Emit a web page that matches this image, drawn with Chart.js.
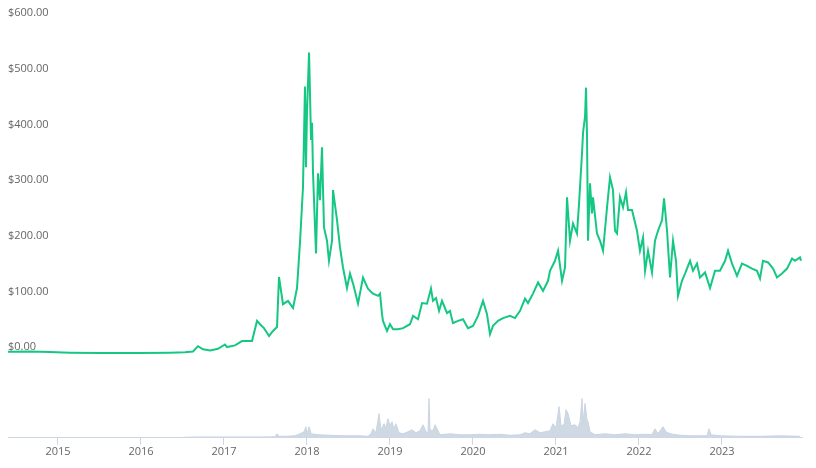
<!DOCTYPE html>
<html>
<head>
<meta charset="utf-8">
<script src="https://cdn.jsdelivr.net/npm/chart.js@4/dist/chart.umd.min.js"></script>
<style>
  html, body { margin: 0; padding: 0; background: #fff; }
  #wrap { width: 816px; height: 468px; }
</style>
</head>
<body>
<div id="wrap"><canvas id="chart" width="816" height="468"></canvas></div>
<script>
// price, USD (dates as decimal years)
const priceDates = [
  2014.398, 2014.663, 2014.904, 2015.145, 2015.506, 2015.988, 2016.350, 2016.531, 2016.627, 2016.687,
  2016.747, 2016.832, 2016.928, 2017.012, 2017.037, 2017.133, 2017.217, 2017.338, 2017.398, 2017.434,
  2017.482, 2017.543, 2017.591, 2017.639, 2017.663, 2017.711, 2017.771, 2017.832, 2017.880, 2017.916,
  2017.952, 2017.976, 2017.988, 2018.000, 2018.025, 2018.049, 2018.061, 2018.073, 2018.097, 2018.109,
  2018.133, 2018.157, 2018.181, 2018.205, 2018.241, 2018.265, 2018.302, 2018.314, 2018.362, 2018.398,
  2018.434, 2018.482, 2018.518, 2018.555, 2018.615, 2018.675, 2018.735, 2018.796, 2018.856, 2018.880,
  2018.904, 2018.916, 2018.964, 2019.000, 2019.037, 2019.097, 2019.157, 2019.241, 2019.278, 2019.338,
  2019.386, 2019.446, 2019.494, 2019.518, 2019.555, 2019.591, 2019.627, 2019.687, 2019.723, 2019.759,
  2019.820, 2019.880, 2019.940, 2020.000, 2020.061, 2020.121, 2020.169, 2020.205, 2020.241, 2020.302,
  2020.362, 2020.446, 2020.506, 2020.567, 2020.627, 2020.663, 2020.723, 2020.784, 2020.844, 2020.904,
  2020.928, 2020.988, 2021.025, 2021.073, 2021.109, 2021.133, 2021.169, 2021.205, 2021.253, 2021.278,
  2021.314, 2021.326, 2021.350, 2021.362, 2021.374, 2021.386, 2021.410, 2021.434, 2021.446, 2021.494,
  2021.531, 2021.567, 2021.615, 2021.651, 2021.687, 2021.711, 2021.735, 2021.771, 2021.808, 2021.844,
  2021.868, 2021.916, 2021.976, 2022.012, 2022.049, 2022.073, 2022.109, 2022.157, 2022.193, 2022.229,
  2022.278, 2022.302, 2022.338, 2022.374, 2022.410, 2022.446, 2022.470, 2022.518, 2022.555, 2022.615,
  2022.651, 2022.699, 2022.735, 2022.796, 2022.856, 2022.916, 2022.976, 2023.037, 2023.073, 2023.121,
  2023.181, 2023.241, 2023.302, 2023.362, 2023.422, 2023.458, 2023.494, 2023.555, 2023.615, 2023.663,
  2023.723, 2023.784, 2023.844, 2023.880, 2023.940, 2023.952
];
const prices = [
  2.5, 3, 2, 1, 0.5, 0.5, 1, 1.5, 3, 12.6,
  7, 5, 8, 15.7, 11, 14, 21.7, 21.7, 58, 52,
  45, 31, 40, 47, 137, 88, 94, 81, 117, 199,
  298, 479, 334, 432, 540, 383, 414, 323, 226, 179,
  323, 275, 370, 226, 202, 166, 202, 293, 239, 190,
  154, 117, 143, 125, 89, 136, 116, 107, 103, 107,
  70, 58, 40, 52, 43, 43, 45, 52, 67, 61,
  90, 89, 116, 94, 99, 76, 94, 72, 76, 54,
  58, 61, 45, 49, 67, 94, 70, 34, 49, 58,
  63, 67, 63, 76, 98, 90, 107, 127, 112, 130,
  148, 166, 184, 130, 154, 280, 202, 233, 215, 269,
  360, 396, 425, 477, 389, 202, 305, 251, 280, 215,
  202, 184, 262, 316, 293, 220, 215, 280, 262, 289,
  257, 257, 220, 184, 208, 148, 184, 145, 202, 220,
  239, 278, 220, 136, 202, 166, 103, 130, 143, 166,
  148, 161, 136, 145, 117, 148, 148, 166, 184, 161,
  139, 161, 157, 152, 148, 134, 166, 163, 152, 136,
  143, 152, 170, 166, 172, 166
];

// volume, $M
const volumeDates = [
  2014.398, 2016.470, 2016.651, 2017.073, 2017.434, 2017.615, 2017.639, 2017.663, 2017.735, 2017.856,
  2017.916, 2017.964, 2017.988, 2018.000, 2018.025, 2018.049, 2018.133, 2018.277, 2018.458, 2018.639,
  2018.735, 2018.771, 2018.796, 2018.831, 2018.868, 2018.892, 2018.928, 2018.952, 2018.976, 2019.000,
  2019.024, 2019.048, 2019.072, 2019.109, 2019.157, 2019.217, 2019.265, 2019.313, 2019.362, 2019.398,
  2019.434, 2019.458, 2019.470, 2019.482, 2019.518, 2019.542, 2019.567, 2019.603, 2019.723, 2019.844,
  2019.964, 2020.085, 2020.205, 2020.326, 2020.446, 2020.567, 2020.627, 2020.687, 2020.747, 2020.808,
  2020.868, 2020.928, 2020.964, 2021.000, 2021.037, 2021.061, 2021.097, 2021.121, 2021.145, 2021.181,
  2021.229, 2021.265, 2021.290, 2021.314, 2021.326, 2021.350, 2021.374, 2021.386, 2021.410, 2021.470,
  2021.591, 2021.711, 2021.832, 2021.952, 2022.073, 2022.157, 2022.193, 2022.229, 2022.289, 2022.326,
  2022.374, 2022.494, 2022.615, 2022.735, 2022.820, 2022.844, 2022.868, 2022.976, 2023.217, 2023.458,
  2023.699, 2023.940
];
const volumes = [
  3, 3, 8, 8, 8, 10, 40, 15, 15, 20,
  40, 60, 110, 30, 110, 40, 30, 25, 20, 20,
  15, 40, 90, 50, 240, 80, 140, 100, 190, 120,
  160, 90, 140, 50, 40, 60, 80, 50, 70, 130,
  60, 50, 390, 80, 70, 130, 90, 30, 40, 30,
  30, 35, 30, 35, 25, 30, 50, 40, 80, 50,
  60, 70, 140, 100, 310, 120, 130, 280, 240, 120,
  130, 100, 160, 390, 150, 340, 180, 160, 60, 30,
  40, 30, 40, 30, 35, 30, 90, 40, 110, 60,
  40, 25, 20, 20, 20, 90, 30, 20, 15, 15,
  20, 15
];

const yearTicks = [2015, 2016, 2017, 2018, 2019, 2020, 2021, 2022, 2023];
const priceTicks = [0, 100, 200, 300, 400, 500, 600];

Chart.defaults.font.family = '"Open Sans", "Noto Sans", sans-serif';
Chart.defaults.font.size = 11;
Chart.defaults.color = '#666666';

const axisColor = '#ccd6eb';

const chart = new Chart(document.getElementById('chart'), {
  data: {
    datasets: [
      {
        type: 'line',
        label: 'Price',
        data: priceDates.map((d, i) => ({x: d, y: prices[i]})),
        borderColor: '#16c784',
        borderWidth: 2,
        pointRadius: 0,
        tension: 0,
        yAxisID: 'y'
      },
      {
        type: 'line',
        label: 'Volume',
        data: volumeDates.map((d, i) => ({x: d, y: volumes[i]})),
        borderColor: '#cbd5e0',
        backgroundColor: '#cfd9e3',
        borderWidth: 1,
        pointRadius: 0,
        tension: 0,
        fill: 'origin',
        yAxisID: 'yv'
      }
    ]
  },
  options: {
    responsive: false,
    animation: false,
    devicePixelRatio: 1,
    layout: { padding: { top: 0, left: 8, right: 14, bottom: 10 } },
    plugins: { legend: { display: false }, tooltip: { enabled: false } },
    scales: {
      x: {
        type: 'linear',
        min: 2014.398,
        max: 2023.964,
        afterBuildTicks: function(scale) {
          scale.ticks = yearTicks.map(v => ({value: v}));
        },
        grid: { display: true, drawOnChartArea: false, drawTicks: true, tickLength: 7, color: axisColor },
        border: { display: true, color: axisColor },
        ticks: {
          padding: 0,
          maxRotation: 0,
          callback: function(v) { return String(v); }
        }
      },
      y: {
        type: 'linear',
        position: 'left',
        min: -152,
        max: 622.6,
        afterBuildTicks: function(scale) {
          scale.ticks = priceTicks.map(v => ({value: v}));
        },
        grid: { display: false, drawTicks: false },
        border: { display: false },
        ticks: {
          mirror: true,
          padding: 0,
          labelOffset: -6,
          callback: function(v) { return '$' + Number(v).toFixed(2); }
        }
      },
      yv: {
        type: 'linear',
        display: false,
        min: 0,
        max: 4280
      }
    }
  }
});
</script>
</body>
</html>
